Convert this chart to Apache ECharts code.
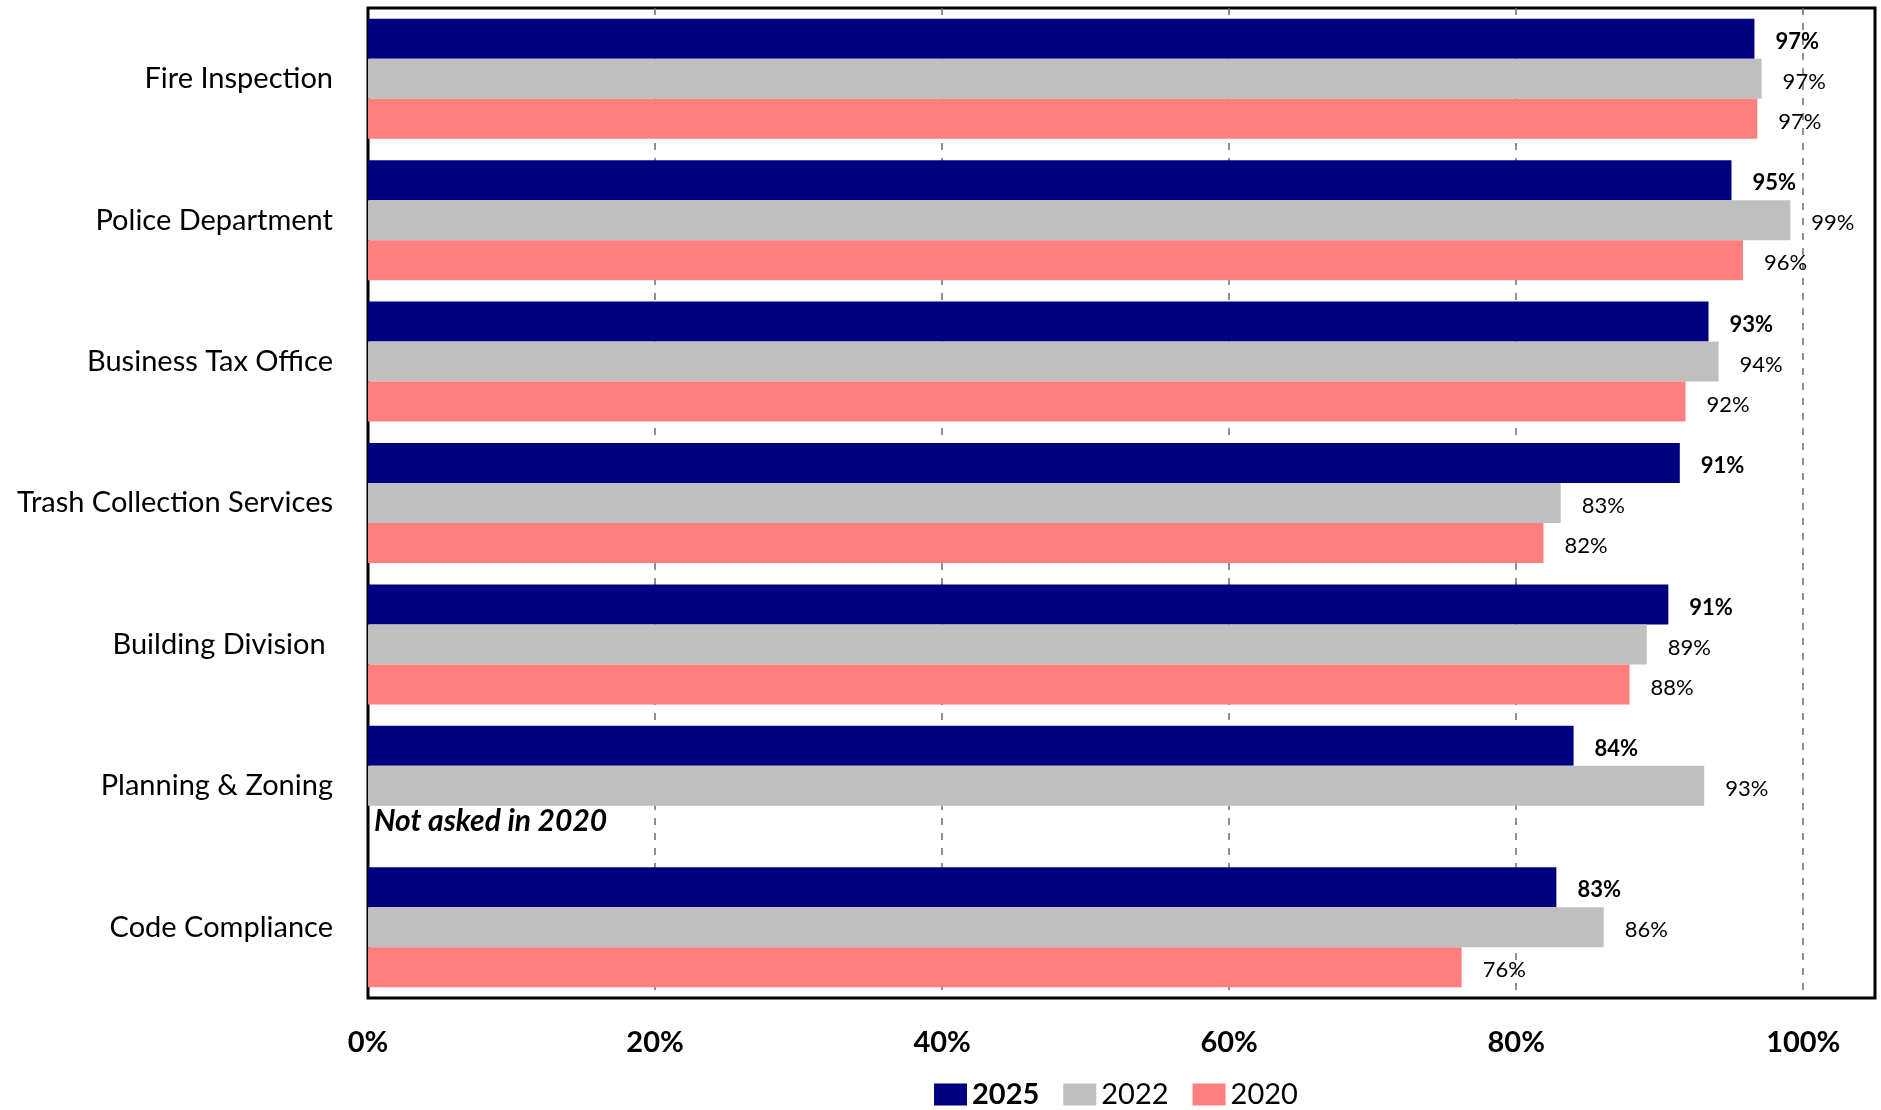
<!DOCTYPE html>
<html>
<head>
<meta charset="utf-8">
<script src="https://cdn.jsdelivr.net/npm/echarts@6/dist/echarts.min.js"></script>
<style>
  html, body { margin: 0; padding: 0; background: #fff; }
  #chart { width: 1881px; height: 1110px; }
</style>
</head>
<body>
<div id="chart"></div>
<script>
// Satisfaction by department, three survey years
const categories = [
  'Fire Inspection',
  'Police Department',
  'Business Tax Office',
  'Trash Collection Services',
  'Building Division ',
  'Planning & Zoning',
  'Code Compliance'
];
const years = ['2025', '2022', '2020'];
const values2025 = [96.6, 95.0, 93.4, 91.4, 90.6, 84.0, 82.8];
const values2022 = [97.1, 99.1, 94.1, 83.1, 89.1, 93.1, 86.1];
const values2020 = [96.8, 95.8, 91.8, 81.9, 87.9, null, 76.2];
const xTicks = [0, 20, 40, 60, 80, 100];
const notAskedNote = 'Not asked in 2020';

const FONT = 'Lato, "Open Sans", sans-serif';
const colors = { '2025': '#000080', '2022': '#BFBFBF', '2020': '#FF7F7F' };

function makeSeries(name, vals, bold) {
  return {
    name: name,
    type: 'bar',
    barWidth: 40,
    barGap: '0%',
    itemStyle: { color: colors[name] },
    label: {
      show: true,
      position: 'right',
      distance: 21,
      offset: [0, 3],
      color: '#000',
      fontFamily: FONT,
      fontSize: 22,
      fontWeight: bold ? 'bold' : 'normal',
      formatter: p => Math.round(p.value) + '%'
    },
    data: vals.map(v => v === null ? {
      // question not asked that year: empty slot carrying a note
      value: 0,
      itemStyle: { color: 'rgba(0,0,0,0)' },
      label: {
        show: true,
        position: 'right',
        distance: 6,
        offset: [0, -5],
        formatter: () => notAskedNote,
        fontSize: 30,
        fontWeight: 'bold',
        fontStyle: 'italic',
        color: '#000'
      }
    } : v)
  };
}

const chart = echarts.init(document.getElementById('chart'));
chart.setOption({
  animation: false,
  backgroundColor: '#fff',
  grid: {
    left: 368, right: 6, top: 8, bottom: 112,
    show: true, borderColor: '#000', borderWidth: 3,
    backgroundColor: 'transparent'
  },
  legend: {
    data: years,
    top: 1075,
    left: 929,
    itemWidth: 33,
    itemHeight: 22,
    itemGap: 24,
    icon: 'rect',
    textStyle: {
      fontFamily: FONT, fontSize: 29, color: '#000',
      rich: { b: { fontFamily: FONT, fontSize: 29, fontWeight: 'bold', color: '#000' } }
    },
    formatter: name => name === '2025' ? '{b|' + name + '}' : name
  },
  xAxis: {
    type: 'value',
    min: 0,
    max: 105,
    interval: 20,
    axisLine: { show: false },
    axisTick: { show: false },
    axisLabel: {
      margin: 30,
      fontFamily: FONT,
      fontSize: 29,
      fontWeight: 'bold',
      color: '#000',
      formatter: v => xTicks.indexOf(v) >= 0 ? v + '%' : ''
    },
    splitLine: {
      show: true,
      showMinLine: false,
      showMaxLine: false,
      lineStyle: { color: '#6b6b6b', width: 1.5, type: [7, 8] }
    }
  },
  yAxis: {
    type: 'category',
    inverse: true,
    data: categories,
    axisLine: { show: false },
    axisTick: { show: false },
    axisLabel: {
      margin: 35,
      padding: [3, 0, 0, 0],
      fontFamily: FONT,
      fontSize: 29,
      color: '#000'
    }
  },
  series: [
    makeSeries('2025', values2025, true),
    makeSeries('2022', values2022, false),
    makeSeries('2020', values2020, false)
  ]
});
</script>
</body>
</html>
